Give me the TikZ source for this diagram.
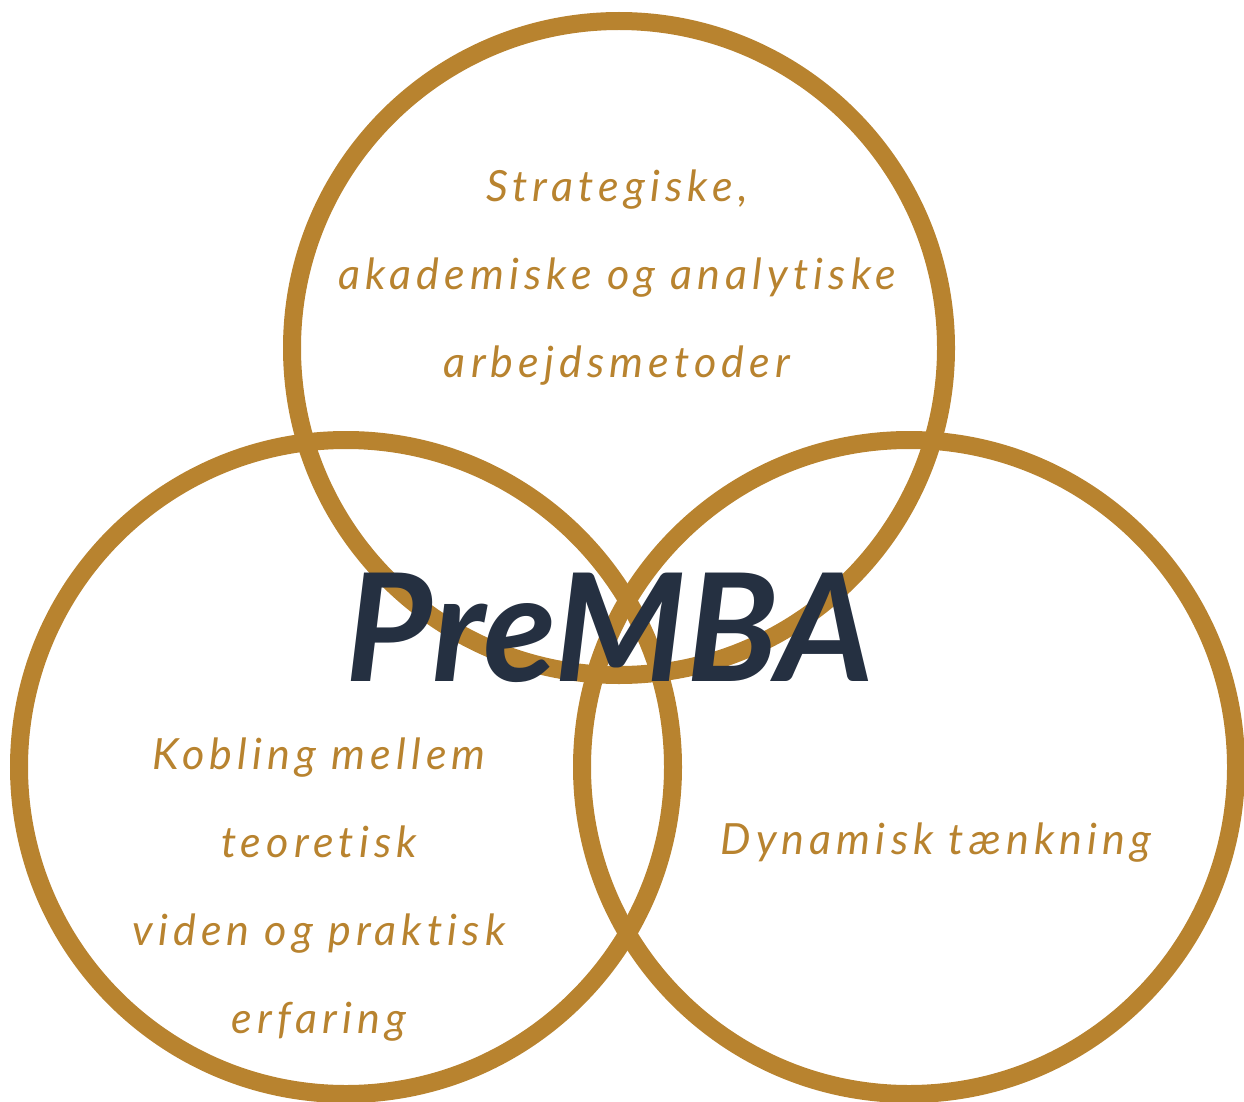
\documentclass[tikz,border=0pt]{standalone}
\usepackage{fontspec}
\setmainfont{Lato}
\newfontfamily\handfont[LetterSpace=12,Ligatures=NoCommon]{Lato}
\definecolor{gold}{HTML}{B8832F}
\definecolor{navy}{HTML}{253041}
\begin{document}
\begin{tikzpicture}[x=1pt,y=-1pt,
  ring/.style={draw=gold,line width=18pt},
  lbl/.style={text=gold,font=\handfont\fontsize{43}{88}\selectfont\itshape,align=center},
  title/.style={text=navy,font=\fontsize{150}{150}\selectfont\bfseries\itshape}]
\useasboundingbox (0,0) rectangle (1244,1102);
\node[circle,ring,minimum size=654pt,inner sep=0pt] (top) at (619,348) {};
\node[circle,ring,minimum size=654pt,inner sep=0pt] (left) at (346,767) {};
\node[circle,ring,minimum size=654pt,inner sep=0pt] (right) at (909,767) {};
\node[lbl] (ttop) at (617,278) {Strategiske,\\akademiske og analytiske\\arbejdsmetoder};
\node[lbl] (tleft) at (319,890) {Kobling mellem\\teoretisk\\viden og praktisk\\erfaring};
\node[lbl] (tright) at (936,843) {Dynamisk tænkning};
\node[title] (pre) at (610,628) {PreMBA};
\end{tikzpicture}
\end{document}
